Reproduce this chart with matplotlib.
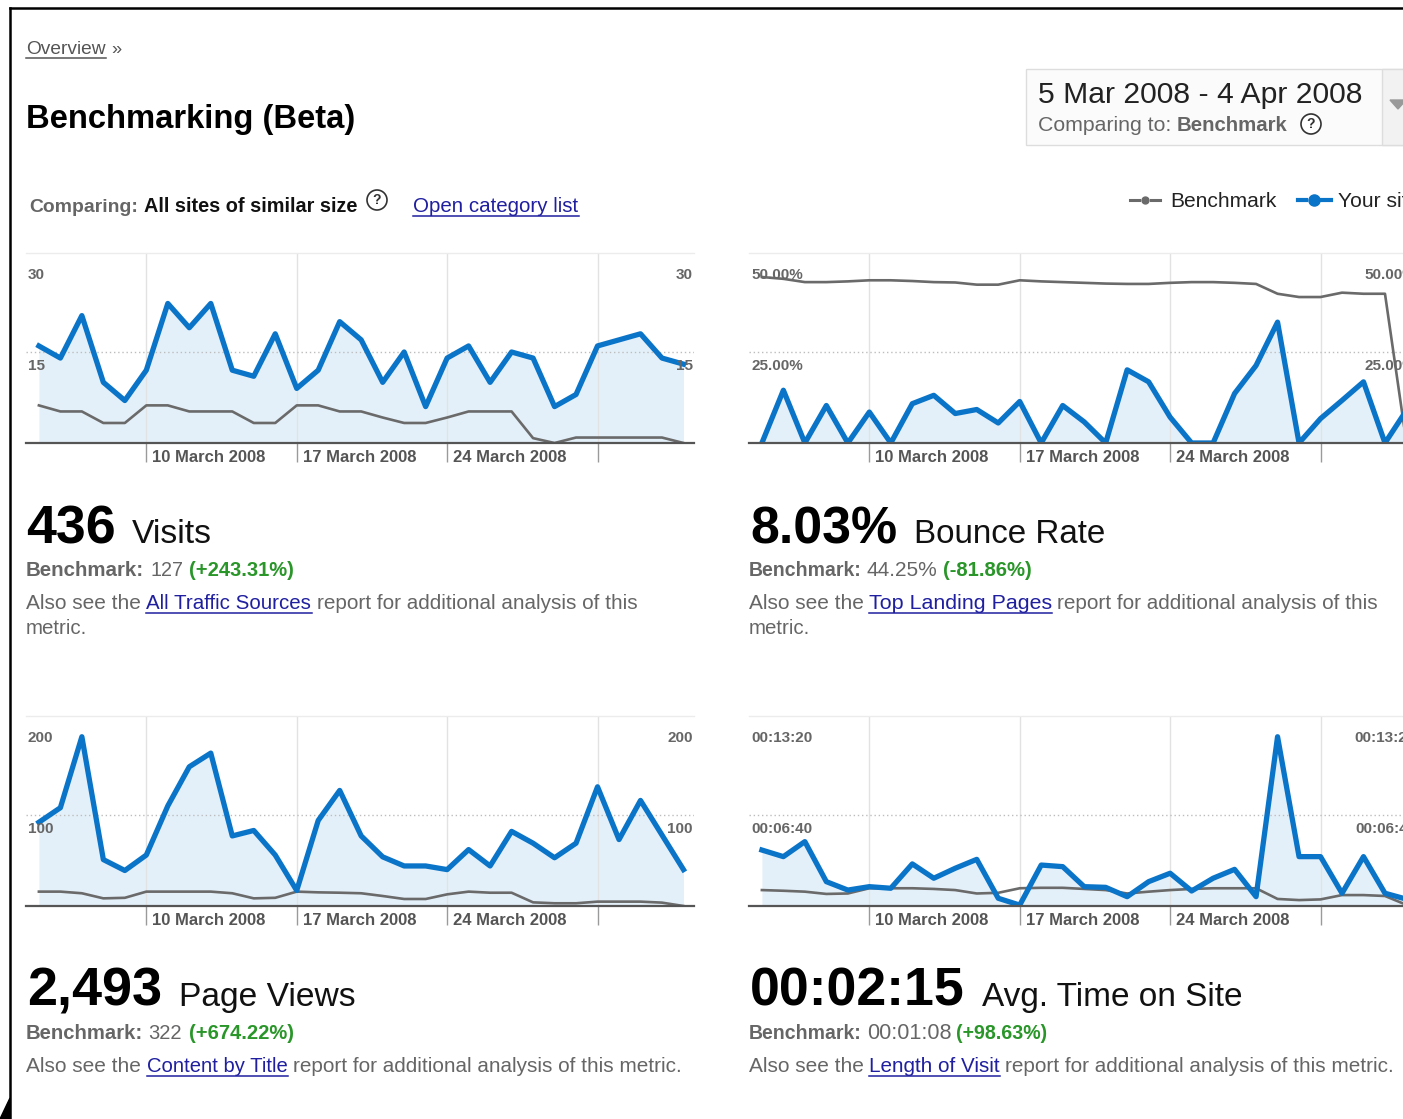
"""Benchmarking (Beta) dashboard: visits, bounce rate, page views, time on site."""

import matplotlib

matplotlib.use("Agg")
import matplotlib.pyplot as plt
import numpy as np
from matplotlib.lines import Line2D
from matplotlib.patches import Ellipse, Polygon, Rectangle

W, H = 1403, 1119

# --- data (5 Mar 2008 .. 4 Apr 2008, one value per day) ---------------------
days = np.arange(31)
week_days = [5, 12, 19, 26]
week_labels = ["10 March 2008", "17 March 2008", "24 March 2008", ""]

visits = [16, 14, 21, 10, 7, 12, 23, 19, 23, 12, 11, 18, 9, 12, 20, 17,
          10, 15, 6, 14, 16, 10, 15, 14, 6, 8, 16, 17, 18, 14, 13]
visits_bench = [6.2, 5.2, 5.2, 3.3, 3.3, 6.2, 6.2, 5.2, 5.2, 5.2, 3.3, 3.3,
                6.2, 6.2, 5.2, 5.2, 4.2, 3.3, 3.3, 4.2, 5.2, 5.2, 5.2, 0.8,
                0.0, 0.9, 0.9, 0.9, 0.9, 0.9, 0.0]

bounce = [0, 14.5, 0, 10.3, 0, 8.5, 0, 10.8, 13.1, 8.1, 9.2, 5.5, 11.4, 0,
          10.3, 5.8, 0, 20.1, 16.8, 7.1, 0, 0, 13.6, 21.3, 33.2, 0, 6.7,
          11.7, 16.8, 0, 9.0]
bounce_bench = [45.6, 45.1, 44.2, 44.2, 44.4, 44.7, 44.7, 44.5, 44.2, 44.1,
                43.5, 43.5, 44.7, 44.4, 44.2, 44.0, 43.8, 43.7, 43.7, 44.0,
                44.2, 44.2, 44.0, 43.7, 41.0, 40.1, 40.1, 41.3, 41.0, 41.0, 0.0]

pageviews = [92, 108, 186, 51, 39, 56, 110, 153, 168, 77, 83, 56, 17, 94,
             127, 77, 54, 44, 44, 40, 62, 44, 82, 69, 53, 69, 131, 73, 116,
             78, 40]
pageviews_bench = [15.8, 15.8, 14.0, 8.4, 9.0, 15.8, 15.8, 15.8, 15.8, 14.0,
                   8.4, 9.0, 15.8, 15.0, 14.6, 14.0, 11.0, 7.7, 7.7, 12.8,
                   15.8, 14.6, 14.6, 4.0, 3.0, 3.0, 4.8, 4.8, 4.8, 3.7, 0.0]

# seconds
time_on_site = [246, 217, 283, 107, 70, 85, 78, 185, 122, 166, 205, 34, 4,
                180, 173, 85, 82, 41, 107, 144, 66, 122, 161, 41, 744, 217,
                217, 56, 217, 56, 30]
time_bench = [70, 67, 63, 53, 55, 78, 78, 78, 75, 70, 55, 58, 78, 80, 80, 75,
              70, 55, 63, 70, 75, 78, 78, 78, 31, 26, 29, 48, 48, 44, 5]

BLUE = "#0a74c8"
FILL = "#e4f0f9"
GRAY_LINE = "#6a6a6a"
TEXT_GRAY = "#666666"
LINK = "#1f1fa0"
GREEN = "#2a962a"
FONT = "Liberation Sans"

fig = plt.figure(figsize=(W / 100, H / 100), dpi=100)
fig.patch.set_facecolor("white")
renderer = fig.canvas.get_renderer()


def fx(x):
    return x / W


def fy(y):
    return 1 - y / H


def text(x0, x1, base, s, weight="normal", color="black", underline=False,
         family=FONT, size=None):
    """Place text at pixel coords, scaled so it spans x0..x1 (or fixed size)."""
    t = fig.text(fx(x0), fy(base), s, fontsize=size or 10, family=family,
                 weight=weight, color=color, va="baseline", ha="left")
    if size is None:
        w = t.get_window_extent(renderer).width
        t.set_fontsize(10 * (x1 - x0) / w)
    if underline:
        fig.add_artist(Line2D([fx(x0), fx(x1)], [fy(base + 4), fy(base + 4)],
                              color=color, lw=1.1))
    return t


def help_icon(cx, cy, r=10):
    fig.add_artist(Ellipse((fx(cx), fy(cy)), 2 * r / W, 2 * r / H,
                           facecolor="white", edgecolor="#333333", lw=1.2))
    fig.text(fx(cx), fy(cy), "?", ha="center", va="center", fontsize=10,
             weight="bold", color="#333333", family=FONT)


def draw_chart(x0, top, bottom, site, bench, ymax, mid, labels):
    ax = fig.add_axes([fx(x0), fy(bottom), 668 / W, (bottom - top) / H])
    ax.set_xlim(-0.6, 30.49)
    ax.set_ylim(0, ymax)
    ax.axis("off")
    ax.fill_between(days, 0, site, color=FILL, lw=0, zorder=1)
    for d in week_days:
        ax.axvline(d, color="#e2e2e2", lw=1, zorder=1.5)
    ax.vlines(week_days, -ymax * 19 / (bottom - top), 0, colors="#9a9a9a",
              lw=1, clip_on=False, zorder=1)
    ax.axhline(mid, color="#bdbdbd", ls=(0, (1, 2)), lw=1, zorder=2)
    ax.axhline(ymax, color="#ececec", lw=1, clip_on=False, zorder=2)
    ax.plot(days, bench, color=GRAY_LINE, lw=1.9, zorder=3)
    ax.plot(days, site, color=BLUE, lw=3.8, zorder=4)
    ax.axhline(0, color="#555555", lw=1.6, clip_on=False, zorder=5)
    for v, lab in zip([mid * 2, mid], labels):
        ax.annotate(lab, xy=(0, v), xycoords=("axes fraction", "data"),
                    xytext=(2, -7), textcoords="offset pixels", va="top",
                    ha="left", fontsize=11, weight="bold", color=TEXT_GRAY,
                    family=FONT, zorder=6)
        ax.annotate(lab, xy=(1, v), xycoords=("axes fraction", "data"),
                    xytext=(-1, -7), textcoords="offset pixels", va="top",
                    ha="right", fontsize=11, weight="bold", color=TEXT_GRAY,
                    family=FONT, zorder=6)
    for d, lab in zip(week_days, week_labels):
        ax.annotate(lab, xy=(d, 0), xytext=(6, -19), textcoords="offset pixels",
                    va="baseline", ha="left", fontsize=12, weight="bold",
                    color="#555555", family=FONT)
    return ax


# --- page frame -------------------------------------------------------------
fig.add_artist(Line2D([fx(10), fx(10)], [fy(8), fy(H)], color="black", lw=1.8))
fig.add_artist(Line2D([fx(10), fx(W)], [fy(8), fy(8)], color="black", lw=1.8))
fig.add_artist(Polygon([(fx(0), fy(1119)), (fx(10), fy(1098)), (fx(10), fy(1119))],
                       closed=True, color="black"))

# --- header -----------------------------------------------------------------
text(26, 106, 54, "Overview", color="#555555", underline=True)
text(111, 121, 54, "»", color="#555555")
text(26, 356, 128, "Benchmarking (Beta)", weight="bold")
text(29, 138, 212, "Comparing:", weight="bold", color=TEXT_GRAY)
text(144, 358, 212, "All sites of similar size", weight="bold", color="#111111")
help_icon(377, 200)
text(413, 579, 212, "Open category list", color=LINK, underline=True)

fig.add_artist(Rectangle((fx(1026), fy(145)), (1420 - 1026) / W, 76 / H,
                         facecolor="#fbfbfb", edgecolor="#dddddd", lw=1))
fig.add_artist(Rectangle((fx(1382), fy(145)), 40 / W, 76 / H,
                         facecolor="#f2f2f2", edgecolor="#dddddd", lw=1))
fig.add_artist(Polygon([(fx(1390), fy(100)), (fx(1406), fy(100)), (fx(1398), fy(109))],
                       closed=True, color="#999999"))
text(1038, 1365, 103, "5 Mar 2008 - 4 Apr 2008", color="#222222")
text(1038, 1172, 131, "Comparing to:", color=TEXT_GRAY)
text(1177, 1288, 131, "Benchmark", weight="bold", color=TEXT_GRAY)
help_icon(1311, 124)

# legend
for xa, xb in [(1130, 1139), (1151, 1160)]:
    fig.add_artist(Line2D([fx(xa), fx(xb)], [fy(200), fy(200)], color=GRAY_LINE, lw=2.2))
fig.add_artist(Line2D([fx(1145)], [fy(200)], marker="o", ms=5, color=GRAY_LINE))
leg = text(1170, 1277, 207, "Benchmark", color="#222222")
for xa, xb in [(1298, 1306), (1322, 1331)]:
    fig.add_artist(Line2D([fx(xa), fx(xb)], [fy(200), fy(200)], color=BLUE, lw=3))
fig.add_artist(Line2D([fx(1314)], [fy(200)], marker="o", ms=8, color=BLUE))
text(1338, 1420, 207, "Your site", color="#222222", size=leg.get_fontsize())

# --- charts -----------------------------------------------------------------
draw_chart(26, 253, 443, visits, visits_bench, 15 * 190 / 91, 15, ["30", "15"])
draw_chart(749, 253, 443, bounce, bounce_bench, 25 * 190 / 91, 25,
           ["50.00%", "25.00%"])
draw_chart(26, 716, 906, pageviews, pageviews_bench, 100 * 190 / 91, 100,
           ["200", "100"])
draw_chart(749, 716, 906, time_on_site, time_bench, 400 * 190 / 91, 400,
           ["00:13:20", "00:06:40"])

# --- metric blocks ----------------------------------------------------------
blocks = [
    # x offset, baseline, number, name, bench value, change, link, tail, wrap
    (0, 543, ("436", 26, 116), ("Visits", 132, 212),
     ("127", 150, 183), ("(+243.31%)", 189, 294),
     ("All Traffic Sources", 146, 312),
     ("report for additional analysis of this", 317, 640), True),
    (723, 543, ("8.03%", 750, 898), ("Bounce Rate", 914, 1106),
     ("44.25%", 867, 938), ("(-81.86%)", 943, 1032),
     ("Top Landing Pages", 869, 1052),
     ("report for additional analysis of this", 1057, 1380), True),
    (0, 1006, ("2,493", 27, 162), ("Page Views", 179, 356),
     ("322", 148, 182), ("(+674.22%)", 189, 294),
     ("Content by Title", 147, 288),
     ("report for additional analysis of this metric.", 293, 684), False),
    (723, 1006, ("00:02:15", 750, 966), ("Avg. Time on Site", 982, 1244),
     ("00:01:08", 867, 951), ("(+98.63%)", 956, 1048),
     ("Length of Visit", 869, 1000),
     ("report for additional analysis of this metric.", 1005, 1395), False),
]
for off, base, num, name, bval, chg, link, tail, wrap in blocks:
    x = 26 + off
    text(num[1], num[2], base, num[0], weight="bold")
    text(name[1], name[2], base, name[0], color="#111111")
    text(x, bval[1] - 5, base + 33, "Benchmark:", weight="bold", color=TEXT_GRAY)
    text(bval[1], bval[2], base + 33, bval[0], color=TEXT_GRAY)
    text(chg[1], chg[2], base + 33, chg[0], weight="bold", color=GREEN)
    text(x, x + 115, base + 66, "Also see the", color=TEXT_GRAY)
    text(link[1], link[2], base + 66, link[0], color=LINK, underline=True)
    text(tail[1], tail[2], base + 66, tail[0], color=TEXT_GRAY)
    if wrap:
        text(x, x + 62, base + 91, "metric.", color=TEXT_GRAY)

fig.savefig("out.png", dpi=100, facecolor="white")
